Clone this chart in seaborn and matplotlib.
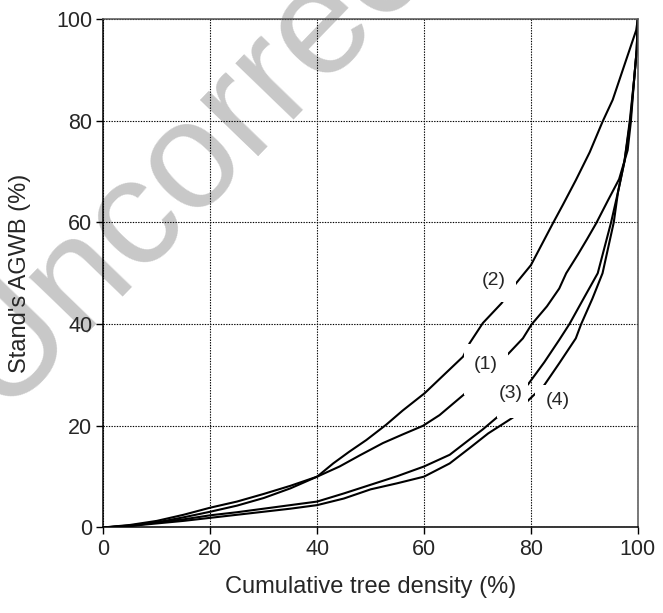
import matplotlib
matplotlib.use("Agg")
import matplotlib.pyplot as plt
from matplotlib.patches import Rectangle
import pandas as pd
import seaborn as sns

# Lorenz-type curves: cumulative tree density (%) vs cumulative stand AGWB (%)
curve1_x = [0, 5, 10, 15, 20, 25, 30, 35, 40, 44.2, 48, 52.3, 56, 59.8, 62.9, 67.4, 71, 75.8,
            78.5, 80.1, 83, 85.3, 86.6, 88.8, 90.5, 92.2, 94.5, 96.5, 98.1, 98.7, 99.3, 99.8, 100]
curve1_y = [0, 0.5, 1.3, 2.5, 3.9, 5.1, 6.6, 8.2, 10, 12, 14.2, 16.6, 18.3, 20, 22.1, 26.1, 29.7, 34.2,
            37.2, 39.9, 43.5, 47, 50, 53.7, 56.7, 59.8, 64.5, 68.5, 74.2, 79.8, 88, 94, 100]

curve2_x = [0, 5, 10, 15, 20, 25, 30, 35, 40, 43, 46, 49.2, 52.9, 56, 60.1, 63.5, 67.3, 68.5, 71,
            74.5, 77.2, 80, 84.1, 86, 88.4, 91, 93.4, 95.3, 97.8, 99.7, 100]
curve2_y = [0, 0.3, 1.0, 2.0, 3.1, 4.3, 5.8, 7.7, 10, 12.6, 14.9, 17.2, 20.2, 23, 26.4, 29.8, 33.6, 36.2, 40.2,
            44.1, 48, 51.6, 59.8, 63.5, 68.3, 73.8, 79.8, 84.1, 91.9, 97.8, 100]

curve3_x = [0, 5, 10, 15, 20, 25, 30, 35, 40, 45, 50, 55, 60, 64.8, 68.5, 71, 73.7, 76.5, 79.5, 82.5,
            85.3, 87.2, 90, 92.5, 94, 95, 96.3, 97.5, 98.5, 99.3, 99.8, 100]
curve3_y = [0, 0.4, 1.0, 1.6, 2.4, 3.0, 3.7, 4.4, 5.1, 6.7, 8.4, 10.1, 12.0, 14.3, 17.3, 19.3, 21.7, 24.9, 28.2, 32.5,
            36.9, 40, 45.3, 50, 56, 60, 66, 72, 80, 88, 94, 100]

curve4_x = [0, 5, 10, 15, 20, 25, 30, 35, 40, 45, 50, 55, 60, 64.8, 68.5, 72, 76.6, 79.5, 82.5, 85.3,
            88.4, 89.4, 91.5, 93.4, 95.5, 96.3, 97.5, 98.6, 99.3, 99.8, 100]
curve4_y = [0, 0.3, 0.8, 1.3, 1.9, 2.5, 3.1, 3.7, 4.4, 5.7, 7.5, 8.7, 10.0, 12.6, 15.6, 18.5, 21.6, 25.0, 28.0, 32.3,
            37.2, 40, 45, 50, 60, 66, 72, 80, 88, 94, 100]

curve_names = ["(1)", "(2)", "(3)", "(4)"]

frames = []
for name, xs, ys in zip(curve_names,
                        [curve1_x, curve2_x, curve3_x, curve4_x],
                        [curve1_y, curve2_y, curve3_y, curve4_y]):
    frames.append(pd.DataFrame({"density": xs, "agwb": ys, "curve": name}))
df = pd.concat(frames, ignore_index=True)

# label placement: text anchor and the white patch that clears the lines around it
label_layout = {
    "(1)": {"text": (71.6, 32.0), "box": (67.4, 26.1, 75.8, 36.0)},
    "(2)": {"text": (73.0, 48.5), "box": (70.5, 44.3, 77.2, 52.5)},
    "(3)": {"text": (76.2, 26.4), "box": (73.7, 21.6, 79.5, 31.0)},
    "(4)": {"text": (85.0, 24.9), "box": (80.7, 21.0, 89.0, 28.0)},
}

sns.set_style("white")
plt.rcParams["font.family"] = ["Liberation Sans", "DejaVu Sans"]

fig = plt.figure(figsize=(6.63, 6.13), dpi=100)
ax = fig.add_axes([0.156, 0.1395, 0.806, 0.8295])
ax.set_facecolor("none")

# faint watermark behind the plot
fig.text(0.0, 0.33, "Uncorrected", fontsize=110, color="#c8c8c8",
         rotation=46, rotation_mode="anchor", ha="left", va="baseline", zorder=-5)

sns.lineplot(data=df, x="density", y="agwb", units="curve", estimator=None, sort=False,
             color="black", linewidth=1.5, ax=ax, zorder=2)

for name, spec in label_layout.items():
    x0, y0, x1, y1 = spec["box"]
    ax.add_patch(Rectangle((x0, y0), x1 - x0, y1 - y0, facecolor="white",
                           edgecolor="none", zorder=3))
    ax.text(*spec["text"], name, fontsize=14, ha="center", va="center", zorder=4)

ax.set_xlim(0, 100)
ax.set_ylim(0, 100)
ticks = [0, 20, 40, 60, 80, 100]
ax.set_xticks(ticks)
ax.set_yticks(ticks)
ax.tick_params(axis="both", direction="out", length=5, width=1, color="black",
               labelsize=15.5, pad=3, bottom=True, left=True)
ax.grid(True, linestyle=(0, (1.2, 1.2)), color="black", linewidth=0.8)
ax.set_axisbelow(True)

for side in ["left", "bottom"]:
    ax.spines[side].set_color("black")
    ax.spines[side].set_linewidth(1.1)
for side in ["top", "right"]:
    ax.spines[side].set_visible(True)
    ax.spines[side].set_color("#555555")
    ax.spines[side].set_linewidth(1.1)

ax.set_xlabel("Cumulative tree density (%)", fontsize=17)
ax.set_ylabel("Stand's AGWB (%)", fontsize=17)
ax.xaxis.set_label_coords(0.5, -0.095)
ax.yaxis.set_label_coords(-0.136, 0.5)

fig.savefig("out.png", dpi=100)
